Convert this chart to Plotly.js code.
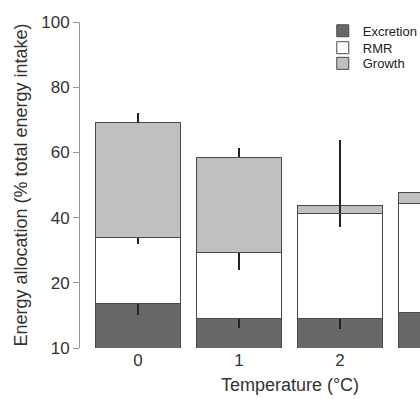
<!DOCTYPE html>
<html>
<head>
<meta charset="utf-8">
<script src="https://cdn.plot.ly/plotly-3.0.1.min.js"></script>
<style>
html, body { margin: 0; padding: 0; overflow: hidden; background: #fff; }
#chart { width: 500px; height: 399px; }
</style>
</head>
<body>
<div id="chart"></div>
<script>
// Categories (temperature, °C)
const temperatures = [0, 1, 2, 3];
const tickLabelsX = ['0', '1', '2'];   // the reference crops the label of the last category

// Stacked segment values (% of total energy intake, axis units)
const excretion = [13.5, 8.9, 8.9, 11.0];
const rmr       = [20.4, 20.3, 32.4, 33.4];
const growth    = [35.2, 29.3, 2.3, 3.2];

// Error bars (one-sided as drawn)
const excretionErrMinus = [3.4, 2.9, 3.1, 2.5];
const rmrErrMinus       = [2.0, 5.3, 4.1, 3.0];
const growthErrPlus     = [2.9, 2.8, 20.3, 3.0];
const growthErrMinus    = [0, 0, 2.3, 0];

// Y ticks
const yTickVals = [0, 20, 40, 60, 80, 100];
const yTickText = ['10', '20', '40', '60', '80', '100'];

const lineCol = '#4a4a4a';
const errStyle = { color: '#222', thickness: 2, width: 0 };

const traces = [
  {
    type: 'bar', name: 'Excretion', x: temperatures, y: excretion, legend: 'legend',
    marker: { color: '#686868', line: { color: lineCol, width: 1 } },
    error_y: Object.assign({ type: 'data', symmetric: false, array: excretion.map(() => 0), arrayminus: excretionErrMinus }, errStyle)
  },
  {
    type: 'bar', name: 'RMR', x: temperatures, y: rmr, legend: 'legend2',
    marker: { color: '#ffffff', line: { color: lineCol, width: 1 } },
    error_y: Object.assign({ type: 'data', symmetric: false, array: rmr.map(() => 0), arrayminus: rmrErrMinus }, errStyle)
  },
  {
    type: 'bar', name: 'Growth', x: temperatures, y: growth, legend: 'legend3',
    marker: { color: '#c0c0c0', line: { color: lineCol, width: 1 } },
    error_y: Object.assign({ type: 'data', symmetric: false, array: growthErrPlus, arrayminus: growthErrMinus }, errStyle)
  }
];

const legendBase = {
  x: 0.578, xanchor: 'left', yanchor: 'top',
  font: { size: 13, color: '#222' }, bgcolor: 'rgba(0,0,0,0)', itemwidth: 30
};

const layout = {
  width: 500, height: 399,
  margin: { l: 80, r: 0, t: 22, b: 51 },
  paper_bgcolor: '#fff', plot_bgcolor: '#fff',
  barmode: 'stack', bargap: 0.16,
  font: { family: 'Liberation Sans, Arial, sans-serif', color: '#333' },
  showlegend: true,
  legend:  Object.assign({}, legendBase, { y: 1.019 }),
  legend2: Object.assign({}, legendBase, { y: 0.967 }),
  legend3: Object.assign({}, legendBase, { y: 0.919 }),
  xaxis: {
    range: [-0.574, 3.584],
    tickvals: temperatures.slice(0, tickLabelsX.length), ticktext: tickLabelsX,
    showline: false, showgrid: false, zeroline: false, ticks: '',
    tickfont: { size: 17, color: '#333' },
    title: { text: 'Temperature (°C)', font: { size: 18, color: '#333' }, standoff: 9 }
  },
  yaxis: {
    range: [0, 100],
    tickvals: yTickVals, ticktext: yTickText,
    showline: true, linecolor: '#999', linewidth: 1,
    ticks: 'outside', ticklen: 6, tickcolor: '#999',
    showgrid: false, zeroline: false,
    tickfont: { size: 17, color: '#333' },
    title: { text: 'Energy allocation (% total energy intake)', font: { size: 18, color: '#333' }, standoff: 8 }
  }
};

Plotly.newPlot('chart', traces, layout, { displayModeBar: false, staticPlot: true });
</script>
</body>
</html>
